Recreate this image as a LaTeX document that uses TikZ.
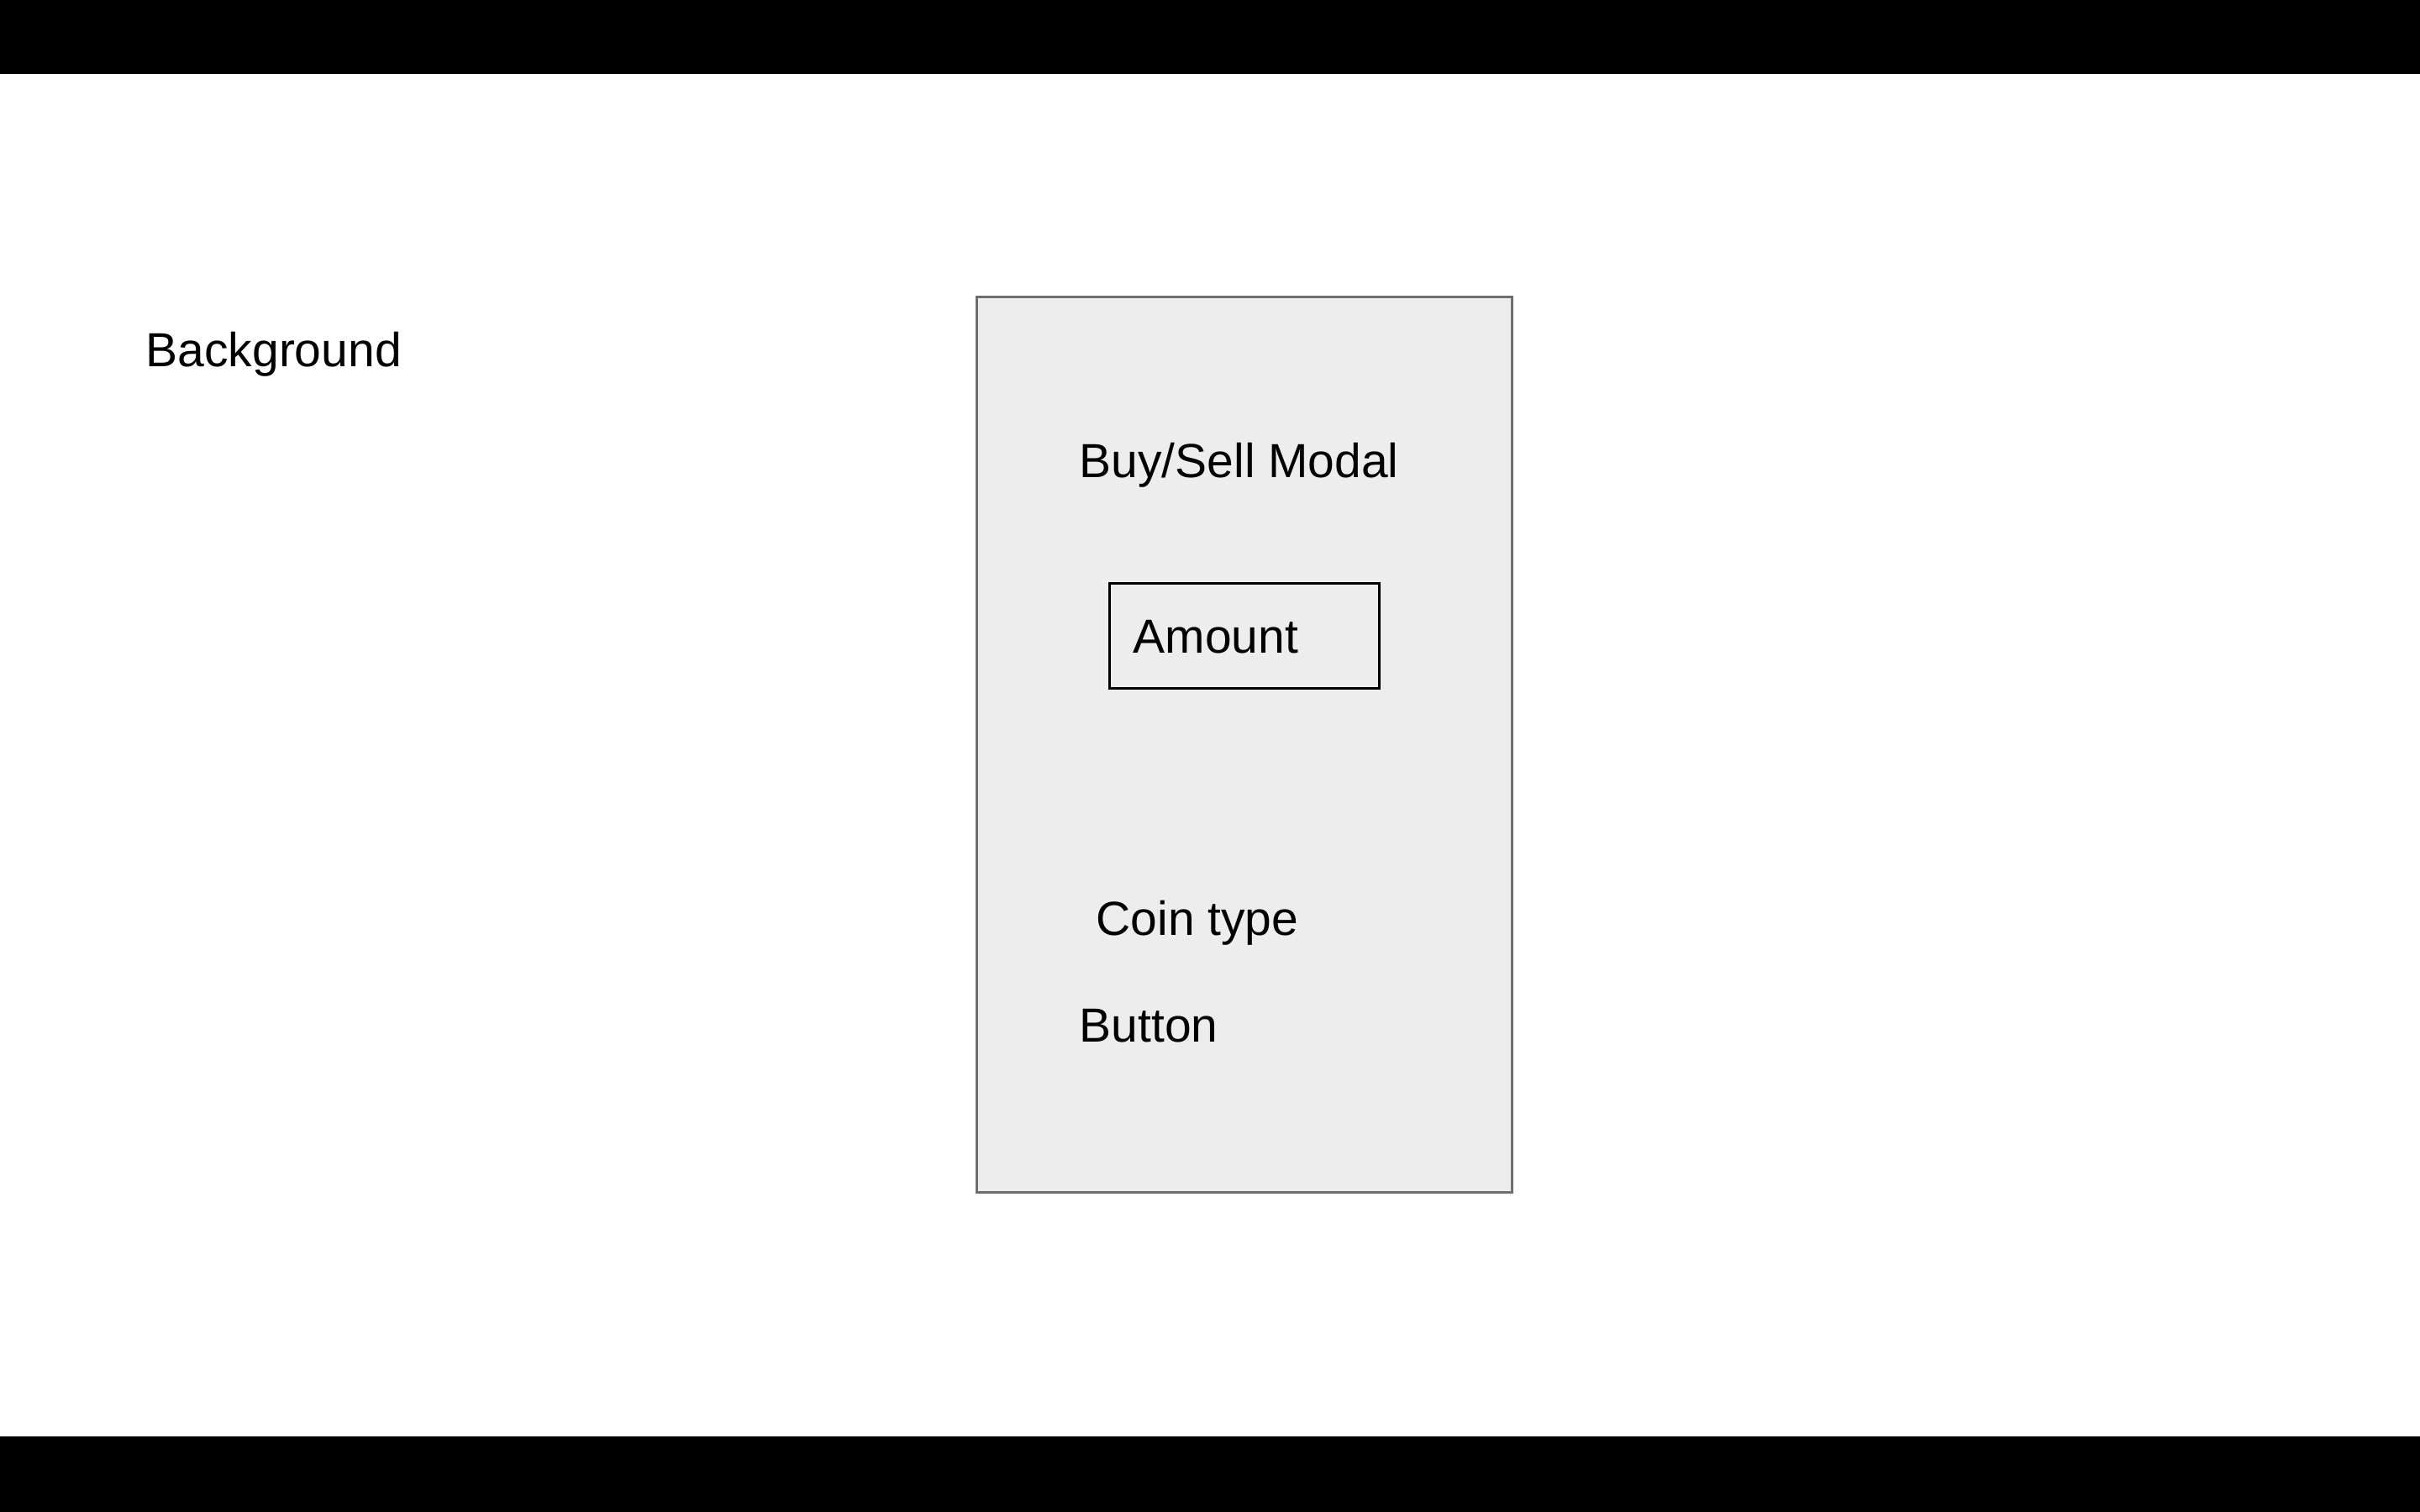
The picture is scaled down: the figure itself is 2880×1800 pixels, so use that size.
\documentclass[tikz,border=0pt]{standalone}
\usepackage{fontspec}
\setmainfont{Liberation Sans}
\definecolor{modalgray}{HTML}{EDEDED}
\definecolor{edgegray}{HTML}{6E6E6E}

\begin{document}
\begin{tikzpicture}[x=0.01cm,y=-0.01cm,font=\fontsize{16.2}{19}\selectfont,
  txt/.style={inner sep=0pt,anchor=base west},
  modalbox/.style={draw=edgegray,fill=modalgray,line width=0.03cm,inner sep=0pt,anchor=north west},
  fieldbox/.style={draw=black,line width=0.03cm,inner sep=0pt,anchor=north west}]

      \useasboundingbox (0,0) rectangle (2880,1800);
      \fill[black] (0,0) rectangle (2880,88);
      \fill[black] (0,1710) rectangle (2880,1800);

      \node (bg) [txt] at (173,437) {Background};
      \node (modal) [modalbox,minimum width=6.37cm,minimum height=10.65cm] at (1161,352) {};
      \node (title) [txt] at (1284,568) {Buy/Sell Modal};
      \node (amount) [fieldbox,minimum width=3.21cm,minimum height=1.25cm] at (1319,693) {};
      \node (amounttxt) [txt] at (1348,777) {Amount};
      \node (coin) [txt] at (1304,1113) {Coin type};
      \node (button) [txt] at (1284,1240) {Button};
    \end{tikzpicture}
\end{document}
